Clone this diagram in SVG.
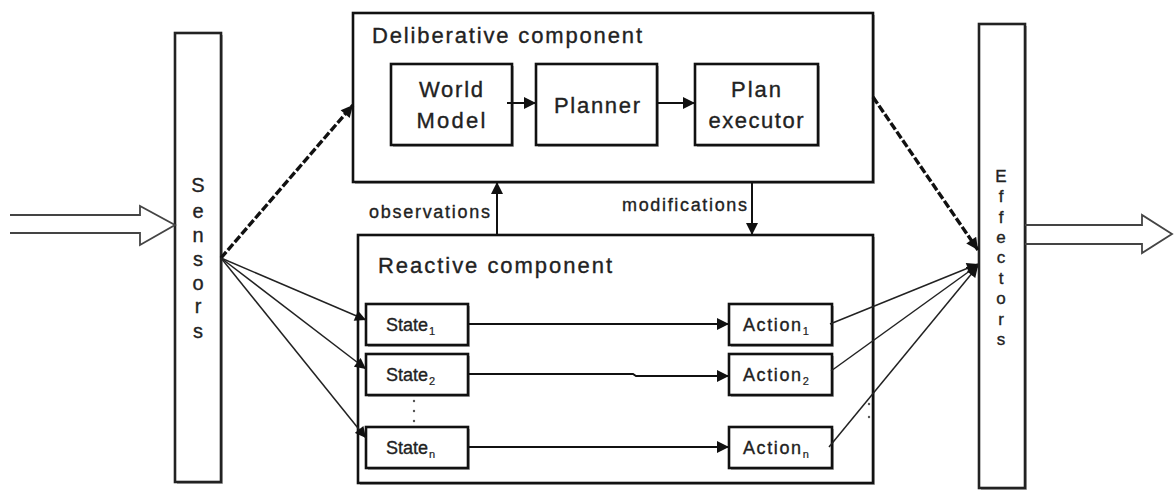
<svg xmlns="http://www.w3.org/2000/svg" width="1174" height="491" viewBox="0 0 1174 491">
  <style>
    .box { fill: #fff; stroke: #111; stroke-width: 2.6; }
    .shadow { fill: #b4b4b4; stroke: none; }
    .bar { fill: #fff; stroke: #222; stroke-width: 2.6; }
    .t { font-family: "Liberation Sans", Arial, sans-serif; fill: #222; stroke: #222; stroke-width: 0.35; }
    .title { font-size: 22px; }
    .lbl { font-size: 22px; text-anchor: middle; }
    .small { font-size: 18px; }
    .cell { font-size: 18px; }
    .sub { font-size: 11px; stroke-width: 0.2; }
    .vert { font-size: 20px; text-anchor: middle; }
    .vert2 { font-size: 17px; text-anchor: middle; }
    .solid { fill: none; stroke: #111; stroke-width: 2; }
    .thin { fill: none; stroke: #222; stroke-width: 1.5; }
    .dash { fill: none; stroke: #111; stroke-width: 3.4; stroke-dasharray: 8 2.5; }
    .hollow { fill: none; stroke: #444; stroke-width: 1.8; stroke-linejoin: miter; }
    .dot { fill: #555; }
  </style>
  <defs>
    <marker id="ah" viewBox="0 0 10 10" refX="10" refY="5" markerUnits="userSpaceOnUse" markerWidth="14" markerHeight="12" orient="auto">
      <path d="M0,0 L10,5 L0,10 z" fill="#111"/>
    </marker>
    <marker id="ahs" viewBox="0 0 10 10" refX="10" refY="5" markerUnits="userSpaceOnUse" markerWidth="12" markerHeight="11" orient="auto">
      <path d="M0,0 L10,5 L0,10 z" fill="#111"/>
    </marker>
  </defs>

  <!-- Sensors column -->
  <g id="sensors">
    <rect class="shadow" x="177" y="35" width="46" height="449"/>
    <rect class="bar" x="175" y="33" width="46" height="449"/>
    <g class="t vert">
      <text x="198" y="192">S</text>
      <text x="198" y="218">e</text>
      <text x="198" y="242">n</text>
      <text x="198" y="266">s</text>
      <text x="198" y="290">o</text>
      <text x="198" y="313">r</text>
      <text x="198" y="338">s</text>
    </g>
  </g>

  <!-- Effectors column -->
  <g id="effectors">
    <rect class="shadow" x="981" y="26" width="46" height="464"/>
    <rect class="bar" x="979" y="24" width="46" height="464"/>
    <g class="t vert2">
      <text x="1001" y="182">E</text>
      <text x="1001" y="202">f</text>
      <text x="1001" y="223">f</text>
      <text x="1001" y="243">e</text>
      <text x="1001" y="263">c</text>
      <text x="1001" y="284">t</text>
      <text x="1001" y="304">o</text>
      <text x="1001" y="325">r</text>
      <text x="1001" y="345">s</text>
    </g>
  </g>

  <!-- Deliberative component and its parts -->
  <g id="deliberative">
    <rect class="shadow" x="355" y="15" width="520" height="169"/>
    <rect class="box" x="353" y="13" width="520" height="169"/>
    <text class="t title" x="372" y="43" textLength="270" lengthAdjust="spacing">Deliberative component</text>
  </g>
  <g id="world-model">
    <rect class="shadow" x="393" y="66" width="121" height="81"/>
    <rect class="box" x="391" y="64" width="121" height="81"/>
    <text class="t lbl" x="451" y="97" textLength="64" lengthAdjust="spacing">World</text>
    <text class="t lbl" x="451" y="128" textLength="69" lengthAdjust="spacing">Model</text>
  </g>
  <g id="planner">
    <rect class="shadow" x="538" y="66" width="121" height="81"/>
    <rect class="box" x="536" y="64" width="121" height="81"/>
    <text class="t lbl" x="597" y="113" textLength="86" lengthAdjust="spacing">Planner</text>
  </g>
  <g id="plan-executor">
    <rect class="shadow" x="697" y="66" width="123" height="81"/>
    <rect class="box" x="695" y="64" width="123" height="81"/>
    <text class="t lbl" x="756" y="97" textLength="50" lengthAdjust="spacing">Plan</text>
    <text class="t lbl" x="756" y="128" textLength="95" lengthAdjust="spacing">executor</text>
  </g>

  <!-- Reactive component and its rules -->
  <g id="reactive">
    <rect class="shadow" x="360" y="237" width="515" height="248"/>
    <rect class="box" x="358" y="235" width="515" height="248"/>
    <text class="t title" x="378" y="273" textLength="234" lengthAdjust="spacing">Reactive component</text>
    <circle class="dot" cx="414" cy="401" r="1.2"/>
    <circle class="dot" cx="414" cy="411" r="1.2"/>
    <circle class="dot" cx="414" cy="421" r="1.2"/>
    <circle class="dot" cx="869" cy="404" r="1.2"/>
    <circle class="dot" cx="869" cy="417" r="1.2"/>
  </g>
  <g id="state-1">
    <rect class="shadow" x="368" y="306" width="102" height="41"/>
    <rect class="box" x="366" y="304" width="102" height="41"/>
    <text class="t cell" x="386" y="331">State<tspan class="sub" dy="4" dx="1">1</tspan></text>
  </g>
  <g id="state-2">
    <rect class="shadow" x="368" y="356" width="102" height="41"/>
    <rect class="box" x="366" y="354" width="102" height="41"/>
    <text class="t cell" x="386" y="381">State<tspan class="sub" dy="4" dx="1">2</tspan></text>
  </g>
  <g id="state-n">
    <rect class="shadow" x="368" y="429" width="102" height="41"/>
    <rect class="box" x="366" y="427" width="102" height="41"/>
    <text class="t cell" x="386" y="454">State<tspan class="sub" dy="4" dx="1">n</tspan></text>
  </g>
  <g id="action-1">
    <rect class="shadow" x="731" y="306" width="103" height="41"/>
    <rect class="box" x="729" y="304" width="103" height="41"/>
    <text class="t cell" x="743" y="331" letter-spacing="1.6">Action<tspan class="sub" dy="4" letter-spacing="0">1</tspan></text>
  </g>
  <g id="action-2">
    <rect class="shadow" x="731" y="356" width="103" height="41"/>
    <rect class="box" x="729" y="354" width="103" height="41"/>
    <text class="t cell" x="743" y="381" letter-spacing="1.6">Action<tspan class="sub" dy="4" letter-spacing="0">2</tspan></text>
  </g>
  <g id="action-n">
    <rect class="shadow" x="731" y="429" width="103" height="41"/>
    <rect class="box" x="729" y="427" width="103" height="41"/>
    <text class="t cell" x="743" y="454" letter-spacing="1.6">Action<tspan class="sub" dy="4" letter-spacing="0">n</tspan></text>
  </g>

  <!-- Connectors -->
  <g id="connectors">
    <!-- environment in / out -->
    <polyline class="hollow" points="10,215 140,215 140,206 175,225 140,245 140,233 10,233"/>
    <polyline class="hollow" points="1025,225 1142,225 1142,215 1172,234 1142,253 1142,244 1025,244"/>

    <!-- sensors to deliberative layer -->
    <line class="dash" x1="221" y1="258" x2="353" y2="105" marker-end="url(#ah)"/>
    <!-- deliberative layer to effectors -->
    <line class="dash" x1="873" y1="97" x2="978" y2="250" marker-end="url(#ah)"/>

    <!-- sensors fan-out to states -->
    <line class="thin" x1="221" y1="258" x2="366" y2="320" marker-end="url(#ahs)"/>
    <line class="thin" x1="221" y1="258" x2="366" y2="369" marker-end="url(#ahs)"/>
    <line class="thin" x1="221" y1="258" x2="366" y2="438" marker-end="url(#ahs)"/>

    <!-- actions fan-in to effectors -->
    <line class="thin" x1="830" y1="324" x2="978" y2="264" marker-end="url(#ahs)"/>
    <line class="thin" x1="831" y1="371" x2="978" y2="265" marker-end="url(#ahs)"/>
    <line class="thin" x1="829" y1="447" x2="978" y2="266" marker-end="url(#ahs)"/>

    <!-- deliberative pipeline -->
    <line class="solid" x1="507" y1="103" x2="536" y2="103" marker-end="url(#ah)"/>
    <line class="solid" x1="657" y1="103" x2="695" y2="103" marker-end="url(#ah)"/>

    <!-- layer interaction -->
    <line class="solid" x1="497" y1="235" x2="497" y2="182" marker-end="url(#ah)"/>
    <line class="solid" x1="752" y1="182" x2="752" y2="235" marker-end="url(#ah)"/>
    <text class="t small" x="369" y="218" textLength="121" lengthAdjust="spacing">observations</text>
    <text class="t small" x="622" y="211" textLength="125" lengthAdjust="spacing">modifications</text>

    <!-- state to action rules -->
    <line class="solid" x1="468" y1="324" x2="729" y2="324" marker-end="url(#ah)"/>
    <polyline class="solid" points="468,374 633,374 636,376 729,376" marker-end="url(#ah)"/>
    <line class="solid" x1="468" y1="447" x2="729" y2="447" marker-end="url(#ah)"/>
  </g>
</svg>
